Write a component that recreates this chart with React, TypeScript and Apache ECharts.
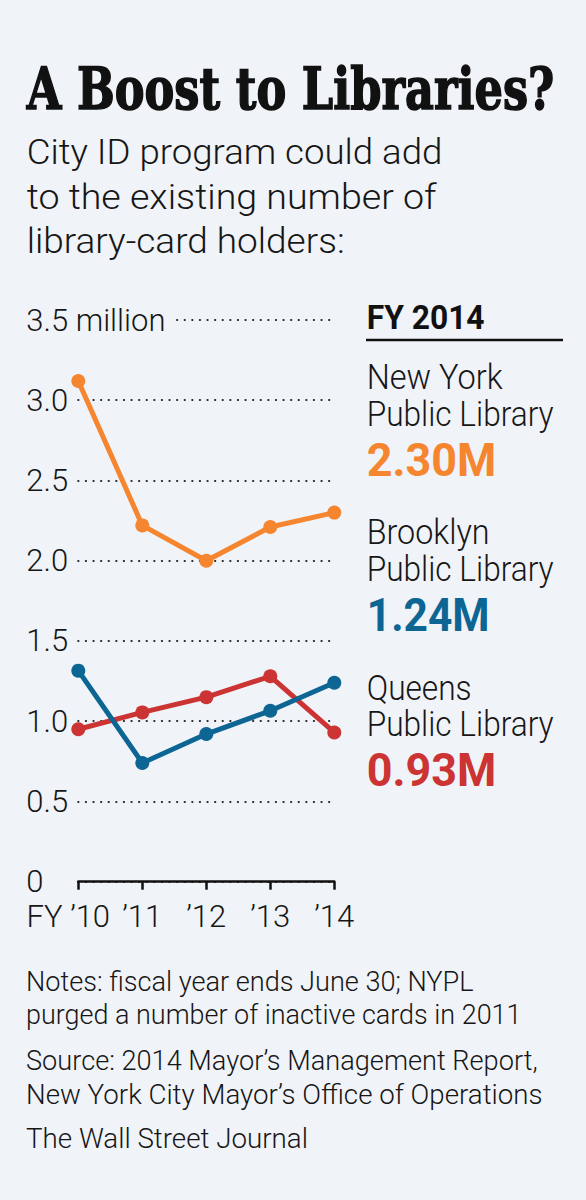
import { useEffect, useRef } from "react";
import * as echarts from "echarts";

const BG = "#f0f3f8";
const INK = "#161616";
const ORANGE = "#f5862f";
const BLUE = "#0c6592";
const RED = "#cc3333";
const SANS = "Roboto";
const LIGHT = "300";
const SERIF = "DejaVu Serif";

const years = ["FY ’10", "’11", "’12", "’13", "’14"];
const nypl = [3.12, 2.22, 2.0, 2.21, 2.3];
const bpl = [1.315, 0.74, 0.92, 1.065, 1.24];
const qpl = [0.95, 1.055, 1.15, 1.28, 0.93];

const title = "A Boost to Libraries?";
const subtitle = ["City ID program could add", "to the existing number of", "library-card holders:"];
const panelHead = "FY 2014";
const libNames = [
  ["New York", "Public Library"],
  ["Brooklyn", "Public Library"],
  ["Queens", "Public Library"],
];
const libValues = ["2.30M", "1.24M", "0.93M"];
const libColors = [ORANGE, BLUE, RED];
const notes = [
  "Notes: fiscal year ends June 30; NYPL",
  "purged a number of inactive cards in 2011",
  "Source: 2014 Mayor’s Management Report,",
  "New York City Mayor’s Office of Operations",
  "The Wall Street Journal",
];

const ctx = document.createElement("canvas").getContext("2d");

// squeeze a text horizontally so it spans the width seen in the reference
function txt(text, x, y, size, width, family = SANS, weight = LIGHT, fill = INK, stroke = 0) {
  ctx.font = `${weight} ${size}px ${family}`;
  const w = ctx.measureText(text).width || width;
  return {
    type: "text",
    x,
    y,
    scaleX: width / w,
    style: {
      text,
      fontSize: size,
      fontFamily: family,
      fontWeight: weight,
      fill,
      stroke: stroke ? fill : null,
      lineWidth: stroke,
      align: "left",
      verticalAlign: "middle",
      textAlign: "left",
      textVerticalAlign: "middle",
    },
  };
}

const App = () => {
  const chartRef = useRef(null);

  useEffect(() => {
    const chart = echarts.init(chartRef.current, null, { renderer: "svg" });

    const subW = [416, 410, 318];
    const subY = [152.5, 196.5, 241.5];
    const nameW = [[136, 187], [123, 187], [105, 187]];
    const blockY = [377.5, 532.5, 687.5];
    const valW = [129.5, 123, 129.5];
    const noteW = [448, 496, 512, 517, 282];
    const noteY = [981.7, 1015, 1060, 1094, 1138];

    const graphic: any[] = [
      txt(title, 26.7, 88, 58, 528, SERIF, "bold", "#111", 1.6),
      ...subtitle.map((s, i) => txt(s, 26.7, subY[i], 35, subW[i])),
      txt(panelHead, 366.7, 318.3, 32.5, 118, SANS, "bold", "#111"),
      {
        type: "line",
        shape: { x1: 366, y1: 340, x2: 563, y2: 340 },
        style: { stroke: "#111", lineWidth: 2.5 },
      },
      ...notes.map((s, i) => txt(s, 26, noteY[i], 28, noteW[i])),
    ];
    libNames.forEach((pair, i) => {
      graphic.push(txt(pair[0], 366.7, blockY[i], 35, nameW[i][0]));
      graphic.push(txt(pair[1], 366.7, blockY[i] + 36.7, 35, nameW[i][1]));
      graphic.push(txt(libValues[i], 366.7, blockY[i] + 82.5, 46.5, valW[i], SANS, "bold", libColors[i]));
    });

    const lineSeries = (data, color) => ({
      type: "line",
      data,
      symbol: "circle",
      symbolSize: 14,
      lineStyle: { width: 5, color },
      itemStyle: { color },
      silent: true,
    });

    const labelFont = { fontSize: 31, fontFamily: SANS, fontWeight: LIGHT, color: INK };

    const option: any = {
      animation: false,
      backgroundColor: BG,
      grid: { left: 78.3, top: 320, width: 256, height: 561.7 },
      xAxis: {
        type: "category",
        data: years,
        boundaryGap: false,
        axisLine: { lineStyle: { color: "#111", width: 2.5 } },
        axisTick: { show: true, length: 8, lineStyle: { color: "#111", width: 2.5 } },
        axisLabel: {
          interval: 0,
          margin: 19,
          ...labelFont,
          formatter: (v, i) => (i === 0 ? `{first|${v}}` : v),
          rich: {
            first: { padding: [0, 20, 0, 0], ...labelFont },
          },
        },
        splitLine: { show: false },
      },
      yAxis: {
        type: "value",
        min: 0,
        max: 3.5,
        interval: 0.5,
        axisLine: { show: false },
        axisTick: { show: false },
        splitLine: {
          lineStyle: { type: [0.1, 7.5], color: "#222", width: 2.2, cap: "round" },
        },
        axisLabel: {
          align: "left",
          margin: 52,
          ...labelFont,
          formatter: (v) => (v === 3.5 ? "{top|3.5 million}" : v === 0 ? "0" : v.toFixed(1)),
          rich: {
            top: { backgroundColor: BG, padding: [0, 10, 0, 0], ...labelFont },
          },
        },
      },
      series: [lineSeries(nypl, ORANGE), lineSeries(qpl, RED), lineSeries(bpl, BLUE)],
      graphic,
    };

    chart.setOption(option);

    return () => {
      chart.dispose();
    };
  }, []);

  return (
    <div
      ref={chartRef}
      style={{ position: "absolute", left: 0, top: 0, width: "586px", height: "1200px" }}
    />
  );
};

export default App;
